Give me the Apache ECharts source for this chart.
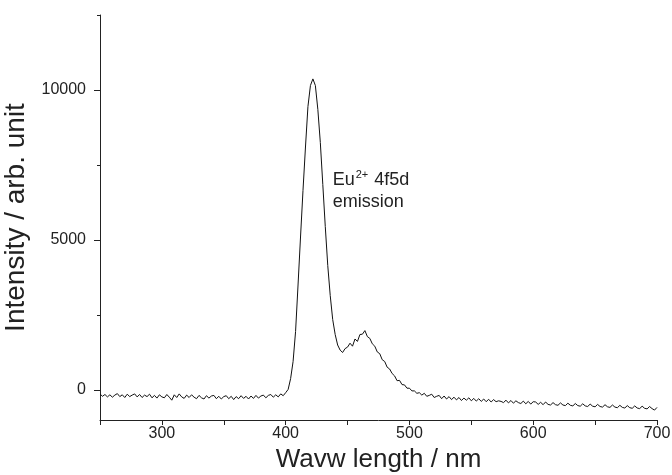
<!DOCTYPE html>
<html><head><meta charset="utf-8">
<script src="https://cdn.jsdelivr.net/npm/echarts@6/dist/echarts.min.js"></script>
<style>html,body{margin:0;padding:0;background:#fff}#c{width:672px;height:475px}</style>
</head><body><div id="c"></div>
<script>
// wavelength (nm) and intensity (arb. unit)
const wavelengths = [];
for (let w = 250; w <= 700; w += 2) wavelengths.push(w);
const intensity = [
 -130,-210,-150,-230,-160,-240,-170,-120,-220,-160, // 250-268
 -250,-140,-220,-170,-130,-230,-150,-250,-170,-220, // 270-288
 -140,-260,-180,-270,-160,-230,-260,-150,-240,-340, // 290-308
 -160,-250,-130,-230,-280,-170,-250,-160,-240,-290, // 310-328
 -180,-260,-300,-190,-270,-200,-180,-290,-210,-300, // 330-348
 -220,-190,-290,-210,-320,-220,-290,-190,-280,-210, // 350-368
 -300,-200,-280,-180,-270,-200,-170,-260,-180,-150, // 370-388
 -240,-160,-230,-130,-190,-90,20,380,950,1950,      // 390-408
 3500,5100,6650,8100,9450,10150,10370,10150,9350,8250, // 410-428
 6850,5450,4150,3150,2350,1850,1500,1330,1250,1380,  // 430-448
 1430,1560,1460,1700,1620,1850,1860,1980,1780,1720,  // 450-468
 1540,1460,1270,1210,1010,950,760,700,550,470,       // 470-488
 310,320,180,170,60,60,-30,-30,-110,-90,             // 490-508
 -170,-110,-210,-180,-140,-250,-210,-180,-290,-200,  // 510-528
 -300,-220,-320,-240,-330,-250,-350,-270,-340,-260,  // 530-548
 -360,-280,-370,-290,-380,-300,-390,-310,-400,-320,  // 550-568
 -390,-360,-380,-420,-340,-430,-350,-440,-360,-420,  // 570-588
 -450,-370,-460,-380,-470,-390,-400,-480,-410,-490,  // 590-608
 -400,-480,-500,-420,-490,-510,-430,-500,-520,-440,  // 610-628
 -510,-530,-450,-520,-540,-460,-530,-550,-470,-540,  // 630-648
 -560,-480,-550,-570,-490,-560,-580,-500,-570,-590,  // 650-668
 -510,-580,-600,-520,-590,-610,-530,-600,-620,-540,  // 670-688
 -610,-630,-550,-620,-670,-580                       // 690-700
];
const xLabelValues = [300, 400, 500, 600, 700];
const xTickValues = [250, 300, 350, 400, 450, 500, 550, 600, 650, 700];
const yLabelValues = [0, 5000, 10000];
const yMinorValues = [2500, 7500, 12500];

const FONT = '"Liberation Sans", Arial, Helvetica, sans-serif';
const chart = echarts.init(document.getElementById('c'));
const data = wavelengths.map((w, i) => [w, intensity[i]]);
chart.setOption({
  animation: false,
  grid: { left: 100, right: 15, top: 15, bottom: 55, outerBoundsMode: 'none', containLabel: false },
  xAxis: {
    type: 'value', min: 250, max: 700,
    name: 'Wavw length / nm', nameLocation: 'middle', nameGap: 25,
    nameTextStyle: { fontFamily: FONT, fontSize: 26, color: '#222' },
    axisLine: { onZero: false, lineStyle: { color: '#222', width: 1 } },
    axisTick: { customValues: xTickValues, length: 5, lineStyle: { color: '#222' } },
    axisLabel: { customValues: xLabelValues, margin: 6, fontFamily: FONT, fontSize: 16, color: '#222',
      formatter: v => String(v) },
    splitLine: { show: false }
  },
  yAxis: [{
    type: 'value', min: -1000, max: 12500, position: 'left',
    name: 'Intensity / arb. unit', nameLocation: 'middle', nameGap: 58, nameRotate: 90,
    nameTextStyle: { fontFamily: FONT, fontSize: 28, color: '#222' },
    axisLine: { show: true, lineStyle: { color: '#222', width: 1 } },
    axisTick: { show: true, customValues: yLabelValues, length: 6, lineStyle: { color: '#222' } },
    axisLabel: { customValues: yLabelValues, margin: 14, fontFamily: FONT, fontSize: 16, color: '#222',
      formatter: v => String(v) },
    splitLine: { show: false }
  }, {
    type: 'value', min: -1000, max: 12500, position: 'left', offset: 0,
    axisLine: { show: false },
    axisTick: { show: true, customValues: yMinorValues, length: 3, lineStyle: { color: '#222' } },
    axisLabel: { show: false },
    splitLine: { show: false }
  }],
  series: [{
    type: 'line', data: data, showSymbol: false, symbol: 'none',
    lineStyle: { color: '#111', width: 1 }, yAxisIndex: 0
  }]
});
const p = chart.convertToPixel({ gridIndex: 0 }, [438, 7350]);
chart.setOption({
  graphic: [{
    type: 'text', left: p[0], top: p[1],
    style: {
      text: '{b|Eu}{s|2+}{b| 4f5d}\n{b|emission}',
      fill: '#222',
      rich: {
        b: { fontFamily: FONT, fontSize: 18, lineHeight: 22, fill: '#222' },
        s: { fontFamily: FONT, fontSize: 11, verticalAlign: 'top', lineHeight: 22, padding: [0, 1, 8, 1], fill: '#222' }
      }
    }
  }]
});
</script></body></html>
